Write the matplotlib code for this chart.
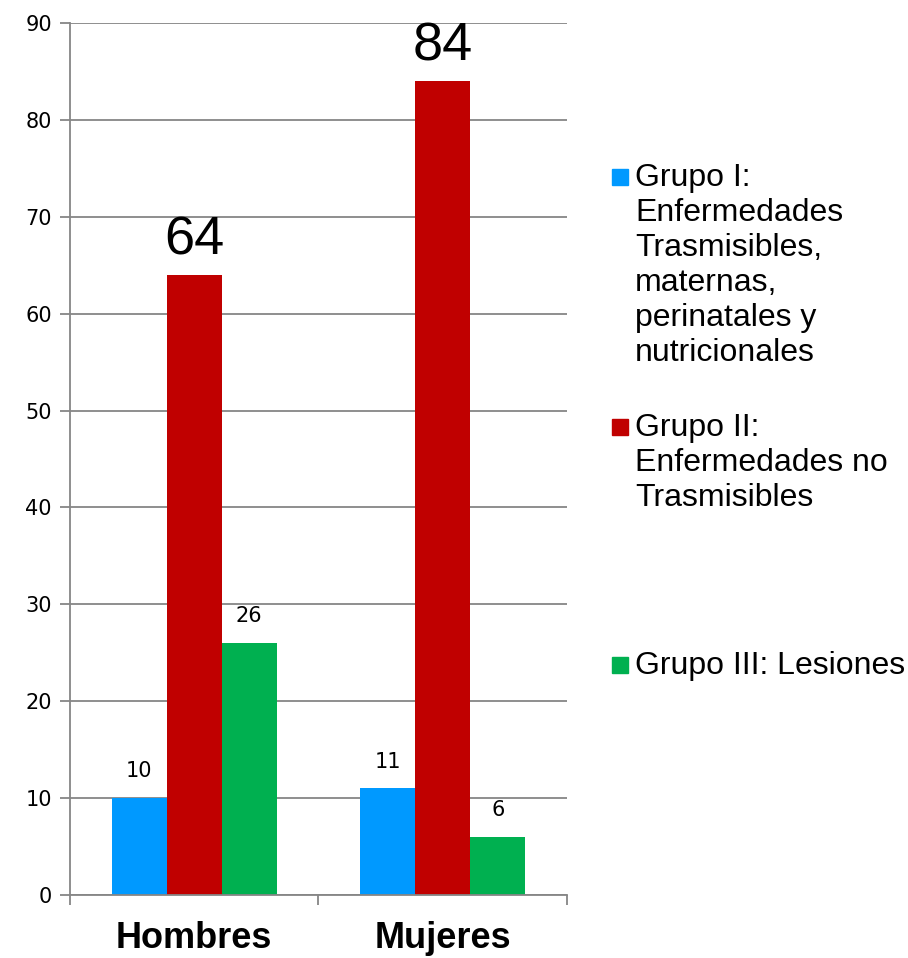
import numpy as np
import matplotlib.pyplot as plt
from matplotlib.patches import Rectangle

categories = ['Hombres', 'Mujeres']
grupo_1 = [10, 11]
grupo_2 = [64, 84]
grupo_3 = [26, 6]
series_labels = ['Grupo I:\nEnfermedades\nTrasmisibles,\nmaternas,\nperinatales y\nnutricionales',
                 'Grupo II:\nEnfermedades no\nTrasmisibles',
                 'Grupo III: Lesiones']
colors = ['#0099FF', '#C00000', '#00B050']

fig = plt.figure(figsize=(9.08, 9.58), dpi=100)
ax = fig.add_axes([0.0771, 0.0658, 0.5473, 0.9102])

x = np.arange(len(categories))
w = 0.2213
grid_col = '#868686'

for i, vals in enumerate([grupo_1, grupo_2, grupo_3]):
    bars = ax.bar(x + (i - 1) * w, vals, w, color=colors[i], zorder=2)
    if i == 1:
        # big labels for group II
        ax.bar_label(bars, labels=[str(v) for v in vals], padding=7,
                     fontsize=39, family='Liberation Sans')
    else:
        ax.bar_label(bars, labels=[str(v) for v in vals], padding=12,
                     fontsize=15, family='DejaVu Sans')

ax.set_xlim(-0.5, 1.5)
ax.set_ylim(0, 90)
ax.set_yticks(range(0, 91, 10))
ax.yaxis.grid(True, color=grid_col, linewidth=1.3, zorder=0)
ax.set_axisbelow(True)

ax.set_xticks([-0.5, 0.5, 1.5])
ax.set_xticklabels([])
ax.set_xticks(x, minor=True)
ax.set_xticklabels(categories, minor=True, fontsize=26, fontweight='bold',
                   family='Liberation Sans')
ax.tick_params(axis='x', which='minor', length=0, pad=19)
ax.tick_params(axis='x', which='major', length=7, color=grid_col, width=1.3)
ax.tick_params(axis='y', length=7, color=grid_col, width=1.3, labelsize=15, pad=6)

for s in ['top', 'right']:
    ax.spines[s].set_visible(False)
for s in ['left', 'bottom']:
    ax.spines[s].set_color(grid_col)
    ax.spines[s].set_linewidth(1.3)

# legend entries
leg_y = [177, 427, 665]
for lab, col, ly in zip(series_labels, colors, leg_y):
    fy = 1 - ly / 958
    fig.patches.append(Rectangle((612 / 908, fy - 8 / 958), 16 / 908, 16 / 958,
                                 transform=fig.transFigure, color=col))
    fig.text(635 / 908, fy + 14 / 958, lab, fontsize=23, family='Liberation Sans',
             va='top', ha='left', linespacing=1.22)

fig.savefig('out.png', dpi=100)
